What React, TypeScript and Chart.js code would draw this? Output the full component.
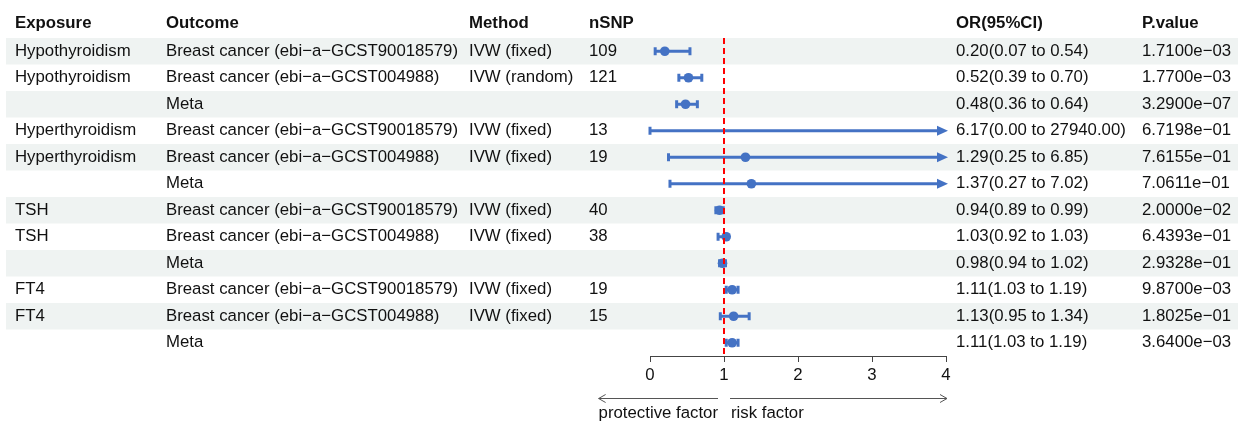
import React, { useEffect, useRef } from "react";
import { Chart, registerables } from "chart.js";

Chart.register(...registerables);

// ---------------- data ----------------
const headers = ["Exposure", "Outcome", "Method", "nSNP", "", "OR(95%CI)", "P.value"];
const exposures = ["Hypothyroidism", "Hypothyroidism", "", "Hyperthyroidism", "Hyperthyroidism", "", "TSH", "TSH", "", "FT4", "FT4", ""];
const outcomes = [
  "Breast cancer (ebi−a−GCST90018579)",
  "Breast cancer (ebi−a−GCST004988)",
  "Meta",
  "Breast cancer (ebi−a−GCST90018579)",
  "Breast cancer (ebi−a−GCST004988)",
  "Meta",
  "Breast cancer (ebi−a−GCST90018579)",
  "Breast cancer (ebi−a−GCST004988)",
  "Meta",
  "Breast cancer (ebi−a−GCST90018579)",
  "Breast cancer (ebi−a−GCST004988)",
  "Meta",
];
const methods = ["IVW (fixed)", "IVW (random)", "", "IVW (fixed)", "IVW (fixed)", "", "IVW (fixed)", "IVW (fixed)", "", "IVW (fixed)", "IVW (fixed)", ""];
const nSNP = ["109", "121", "", "13", "19", "", "40", "38", "", "19", "15", ""];
const orValues = [0.2, 0.52, 0.48, 6.17, 1.29, 1.37, 0.94, 1.03, 0.98, 1.11, 1.13, 1.11];
const lowerCI = [0.07, 0.39, 0.36, 0.0, 0.25, 0.27, 0.89, 0.92, 0.94, 1.03, 0.95, 1.03];
const upperCI = [0.54, 0.7, 0.64, 27940.0, 6.85, 7.02, 0.99, 1.03, 1.02, 1.19, 1.34, 1.19];
const pValues = ["1.7100e−03", "1.7700e−03", "3.2900e−07", "6.7198e−01", "7.6155e−01", "7.0611e−01", "2.0000e−02", "6.4393e−01", "2.9328e−01", "9.8700e−03", "1.8025e−01", "3.6400e−03"];
const xTicks = [0, 1, 2, 3, 4];
const refValue = 1;
const leftLabel = "protective factor";
const rightLabel = "risk factor";

// ---------------- layout / style ----------------
const W = 1238;
const H = 421;
const FONT_FAMILY = "'Liberation Sans', Arial, sans-serif";
const FONT_SIZE = 16.8;
const COL_X = [15, 166, 469, 589, 0, 956, 1142];
const STRIPE_LEFT = 6;
const STRIPE = "#eff3f2";
const BLUE = "#4472c4";
const TEXT = "#111111";

const fmt = (v: number) => v.toFixed(2);
const orLabels = orValues.map((v, i) => `${fmt(v)}(${fmt(lowerCI[i])} to ${fmt(upperCI[i])})`);

const forestPlugin = {
  id: "forestTable",
  beforeDraw(chart: any) {
    const { ctx, scales } = chart;
    const y = scales.y;
    ctx.save();
    for (let i = 0; i < orValues.length; i++) {
      if (i % 2 === 0) {
        const top = y.getPixelForValue(i + 0.5);
        const bot = y.getPixelForValue(i + 1.5);
        ctx.fillStyle = STRIPE;
        ctx.fillRect(STRIPE_LEFT, top, chart.width - STRIPE_LEFT, bot - top);
      }
    }
    ctx.textBaseline = "middle";
    ctx.textAlign = "left";
    ctx.fillStyle = TEXT;
    ctx.font = `bold ${FONT_SIZE}px ${FONT_FAMILY}`;
    const hy = y.getPixelForValue(0) - 1;
    headers.forEach((h, c) => {
      if (h) ctx.fillText(h, COL_X[c], hy);
    });
    ctx.font = `${FONT_SIZE}px ${FONT_FAMILY}`;
    for (let i = 0; i < orValues.length; i++) {
      const ry = y.getPixelForValue(i + 1);
      const cells = [exposures[i], outcomes[i], methods[i], nSNP[i], "", orLabels[i], pValues[i]];
      cells.forEach((t, c) => {
        if (t) ctx.fillText(t, COL_X[c], ry);
      });
    }
    ctx.restore();
  },
  beforeDatasetsDraw(chart: any) {
    const { ctx, scales } = chart;
    const x = scales.x;
    const y = scales.y;
    const xmin = x.min;
    const xmax = x.max;
    ctx.save();
    ctx.strokeStyle = BLUE;
    ctx.fillStyle = BLUE;
    ctx.lineWidth = 3;
    ctx.lineCap = "butt";
    for (let i = 0; i < orValues.length; i++) {
      const ry = y.getPixelForValue(i + 1);
      const lo = Math.max(lowerCI[i], xmin);
      const hiOver = upperCI[i] > xmax;
      const hi = Math.min(upperCI[i], xmax);
      const x0 = x.getPixelForValue(lo);
      const x1 = x.getPixelForValue(hi);
      const tip = x1 + 2;
      const lineEnd = hiOver ? tip - 9 : x1;
      ctx.beginPath();
      ctx.moveTo(x0, ry);
      ctx.lineTo(lineEnd, ry);
      ctx.stroke();
      ctx.beginPath();
      ctx.moveTo(x0, ry - 4);
      ctx.lineTo(x0, ry + 4);
      ctx.stroke();
      if (hiOver) {
        ctx.beginPath();
        ctx.moveTo(tip, ry);
        ctx.lineTo(tip - 11, ry - 5);
        ctx.lineTo(tip - 11, ry + 5);
        ctx.closePath();
        ctx.fill();
      } else {
        ctx.beginPath();
        ctx.moveTo(x1, ry - 4);
        ctx.lineTo(x1, ry + 4);
        ctx.stroke();
      }
    }
    ctx.restore();
  },
  afterDatasetsDraw(chart: any) {
    const { ctx, chartArea, scales } = chart;
    const rx = scales.x.getPixelForValue(refValue);
    ctx.save();
    ctx.strokeStyle = "#ff0000";
    ctx.lineWidth = 2;
    ctx.setLineDash([6, 4]);
    ctx.beginPath();
    ctx.moveTo(rx, chartArea.top);
    ctx.lineTo(rx, chartArea.bottom - 1);
    ctx.stroke();
    ctx.restore();
  },
  afterDraw(chart: any) {
    const { ctx, scales } = chart;
    const x = scales.x;
    const rx = x.getPixelForValue(refValue);
    const rightEnd = x.getPixelForValue(x.max) + 1;
    ctx.save();
    ctx.font = `${FONT_SIZE}px ${FONT_FAMILY}`;
    const lw = ctx.measureText(leftLabel).width;
    const ay = 398;
    const ty = 413;
    ctx.strokeStyle = "#555555";
    ctx.lineWidth = 1;
    const lEnd = rx - 6;
    const lStart = lEnd - lw;
    ctx.beginPath();
    ctx.moveTo(lStart, ay + 0.5);
    ctx.lineTo(lEnd, ay + 0.5);
    ctx.moveTo(lStart + 7, ay + 0.5 - 4);
    ctx.lineTo(lStart, ay + 0.5);
    ctx.lineTo(lStart + 7, ay + 0.5 + 4);
    ctx.stroke();
    const rStart = rx + 6;
    ctx.beginPath();
    ctx.moveTo(rStart, ay + 0.5);
    ctx.lineTo(rightEnd, ay + 0.5);
    ctx.moveTo(rightEnd - 7, ay + 0.5 - 4);
    ctx.lineTo(rightEnd, ay + 0.5);
    ctx.lineTo(rightEnd - 7, ay + 0.5 + 4);
    ctx.stroke();
    ctx.fillStyle = TEXT;
    ctx.textBaseline = "middle";
    ctx.textAlign = "right";
    ctx.fillText(leftLabel, lEnd, ty);
    ctx.textAlign = "left";
    ctx.fillText(rightLabel, rStart + 1, ty);
    ctx.restore();
  },
};

export default function App() {
  const ref = useRef<HTMLCanvasElement | null>(null);
  useEffect(() => {
    document.body.style.margin = "0";
    document.body.style.background = "#ffffff";
    const canvas = ref.current;
    if (!canvas) return;
    const chart = new Chart(canvas, {
      type: "scatter",
      data: {
        datasets: [
          {
            data: orValues.map((v, i) => ({ x: v, y: i + 1 })),
            backgroundColor: BLUE,
            borderColor: BLUE,
            borderWidth: 0,
            pointRadius: orValues.map((v) => (v > xTicks[xTicks.length - 1] ? 0 : 4.8)),
            pointHoverRadius: 0,
            pointStyle: "circle",
          },
        ],
      },
      options: {
        animation: false,
        responsive: false,
        devicePixelRatio: 1,
        events: [],
        layout: { padding: { left: 650, right: W - 946, top: 38, bottom: 0 } },
        plugins: { legend: { display: false }, tooltip: { enabled: false } },
        scales: {
          x: {
            type: "linear",
            min: xTicks[0],
            max: xTicks[xTicks.length - 1],
            afterBuildTicks: (scale: any) => {
              scale.ticks = xTicks.map((v) => ({ value: v }));
            },
            afterFit: (scale: any) => {
              scale.height = 65;
            },
            ticks: {
              color: TEXT,
              font: { family: FONT_FAMILY, size: FONT_SIZE },
              padding: 3,
              maxRotation: 0,
              autoSkip: false,
            },
            grid: {
              display: true,
              drawOnChartArea: false,
              drawTicks: true,
              tickLength: 6,
              tickColor: "#444444",
              lineWidth: 1,
            },
            border: { display: true, color: "#444444", width: 1 },
          },
          y: {
            type: "linear",
            min: 0.5,
            max: orValues.length + 0.5,
            reverse: true,
            display: false,
          },
        },
      },
      plugins: [forestPlugin],
    } as any);
    return () => chart.destroy();
  }, []);
  return (
    <div style={{ position: "absolute", left: 0, top: 0, width: W, height: H }}>
      <canvas ref={ref} width={W} height={H} style={{ width: W, height: H, display: "block" }} />
    </div>
  );
}
